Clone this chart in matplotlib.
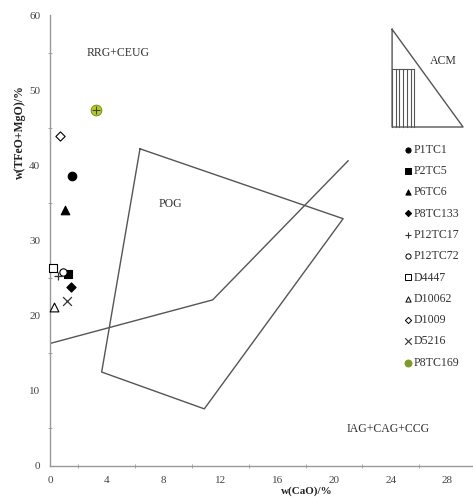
import matplotlib
matplotlib.use("Agg")
import matplotlib.pyplot as plt
from matplotlib.ticker import MultipleLocator

plt.rcParams['font.family'] = ['Liberation Serif', 'DejaVu Serif']

# ========== 样品数据 ==========
samples = ["P1TC1", "P2TC5", "P6TC6", "P8TC133", "P12TC17", "P12TC72",
           "D4447", "D10062", "D1009", "D5216", "P8TC169"]
cao = [1.53, 1.29, 1.06, 1.48, 0.58, 0.89, 0.23, 0.28, 0.70, 1.22, 3.22]
tfeo_mgo = [38.6, 25.6, 34.0, 23.8, 25.3, 25.8, 26.3, 21.2, 43.9, 22.0, 47.4]
markers = ["o", "s", "^", "D", "+", "o", "s", "^", "D", "x", "o"]
filled = [True, True, True, True, True, False, False, False, False, True, True]
sizes = [38, 38, 38, 22, 40, 28, 40, 40, 22, 40, 60]

# ========== 判别图边界 ==========
pog_x = [6.34, 20.65, 10.87, 3.64, 6.34]
pog_y = [42.2, 32.9, 7.6, 12.5, 42.2]
div_x = [0.0, 11.46, 21.0]
div_y = [16.3, 22.1, 40.6]
acm_x = [24.1, 24.1, 29.1, 24.1]
acm_y = [58.1, 45.1, 45.1, 58.1]
hatch_x = [24.1, 24.36, 24.62, 24.88, 25.14, 25.40, 25.65]
hatch_top, hatch_bot = 52.8, 45.1

fig = plt.figure(figsize=(4.73, 4.97), dpi=100)
ax = fig.add_axes([0.1057, 0.0624, 0.8913, 0.9074])

line_c = "#555555"
ax.plot(pog_x, pog_y, color=line_c, lw=1.0)
ax.plot(div_x, div_y, color=line_c, lw=1.0)
ax.plot(acm_x, acm_y, color=line_c, lw=1.0)
for hx in hatch_x:
    ax.plot([hx, hx], [hatch_bot, hatch_top], color=line_c, lw=0.8)
ax.plot([hatch_x[0], hatch_x[-1]], [hatch_top, hatch_top], color=line_c, lw=0.8)

handles = []
for i, name in enumerate(samples):
    m = markers[i]
    if name == "P8TC169":
        ax.scatter(cao[i], tfeo_mgo[i], marker="o", s=sizes[i],
                   facecolor="#b8c92c", edgecolor="#6f7f1a", lw=0.6, zorder=3,
                   clip_on=False)
        ax.scatter(cao[i], tfeo_mgo[i], marker="+", s=40, color="#3f4a10",
                   lw=0.8, zorder=4, clip_on=False)
        hl = ax.scatter([], [], marker="o", s=22, facecolor="#7f9a2a",
                        edgecolor="#7f9a2a", label=name)
    elif m in ("+", "x"):
        ax.scatter(cao[i], tfeo_mgo[i], marker=m, s=sizes[i], color="#333333",
                   lw=0.9, zorder=3, clip_on=False)
        hl = ax.scatter([], [], marker=m, s=22, color="#333333", lw=0.8, label=name)
    else:
        fc = "black" if filled[i] else "white"
        ax.scatter(cao[i], tfeo_mgo[i], marker=m, s=sizes[i], facecolor=fc,
                   edgecolor="black", lw=0.8, zorder=3, clip_on=False)
        hl = ax.scatter([], [], marker=m, s=14 if m != "D" else 10, facecolor=fc,
                        edgecolor="black", lw=0.7, label=name)
    handles.append(hl)

ax.text(4.8, 54.9, "RRG+CEUG", fontsize=8.5, ha="center", va="center", color="#333333")
ax.text(8.5, 34.9, "POG", fontsize=8.5, ha="center", va="center", color="#333333")
ax.text(23.8, 4.9, "IAG+CAG+CCG", fontsize=8.5, ha="center", va="center", color="#333333")
ax.text(27.7, 53.9, "ACM", fontsize=8.5, ha="center", va="center", color="#333333")

leg = ax.legend(handles=handles, loc="upper left", bbox_to_anchor=(0.82, 0.728),
                frameon=False, fontsize=8.6, handletextpad=0.0, handlelength=1.0,
                labelspacing=0.78, borderpad=0.0)
for t in leg.get_texts():
    t.set_color("#333333")

ax.set_xlim(0, 29.7)
ax.set_ylim(0, 60)
ax.xaxis.set_major_locator(MultipleLocator(4))
ax.xaxis.set_minor_locator(MultipleLocator(2))
ax.yaxis.set_major_locator(MultipleLocator(10))
ax.yaxis.set_minor_locator(MultipleLocator(5))
ax.tick_params(which="major", length=0, labelsize=8, labelcolor="#444444", pad=7)
ax.tick_params(which="minor", length=3, direction="inout", color="#999999")
for s in ["top", "right"]:
    ax.spines[s].set_visible(False)
for s in ["left", "bottom"]:
    ax.spines[s].set_color("#999999")
    ax.spines[s].set_linewidth(1.0)

ax.set_xlabel("w(CaO)/%", fontsize=8, fontweight="bold", color="#222222")
ax.xaxis.set_label_coords(0.608, -0.045)
ax.set_ylabel("w(TFeO+MgO)/%", fontsize=8.5, fontweight="bold", color="#222222")
ax.yaxis.set_label_coords(-0.056, 0.74)

plt.savefig("out.png", dpi=100)
